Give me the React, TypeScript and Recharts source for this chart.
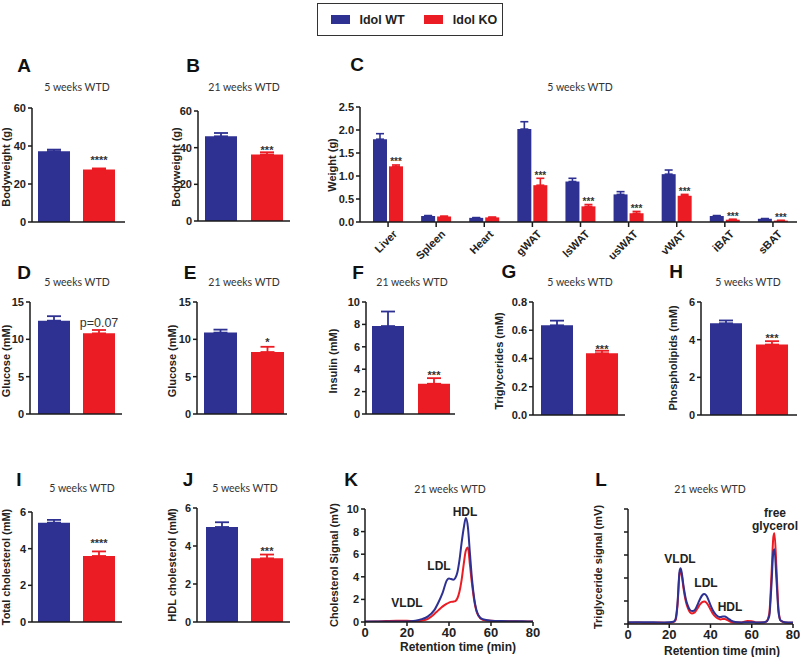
import React from 'react';
import { BarChart, Bar, XAxis, YAxis, ErrorBar, LabelList, LineChart, Line } from 'recharts';

const WT_COLOR = '#2e3192';
const KO_COLOR = '#ec1c24';
const FONT = '"Liberation Sans", Arial, sans-serif';
const TITLE_FONT = 'Lato, "Liberation Sans", sans-serif';
const AXIS = '#1a1a1a';

// bar panels: [WT, KO] means and upper SEM
const aMeans = [37.3, 27.6];
const aErr = [0.8, 0.6];
const bMeans = [46.2, 36.3];
const bErr = [1.8, 1.2];
const dMeans = [12.5, 10.8];
const dErr = [0.6, 0.45];
const eMeans = [10.9, 8.3];
const eErr = [0.4, 0.7];
const fMeans = [7.85, 2.7];
const fErr = [1.3, 0.5];
const gMeans = [0.635, 0.437];
const gErr = [0.033, 0.018];
const hMeans = [4.87, 3.74];
const hErr = [0.15, 0.18];
const iMeans = [5.42, 3.6];
const iErr = [0.15, 0.25];
const jMeans = [5.0, 3.35];
const jErr = [0.25, 0.2];

// panel C organ weights
const organs = ['Liver', 'Spleen', 'Heart', 'gWAT', 'lsWAT', 'usWAT', 'vWAT', 'iBAT', 'sBAT'];
const organWT = [1.8, 0.13, 0.09, 2.02, 0.88, 0.6, 1.04, 0.13, 0.07];
const organWTErr = [0.12, 0.01, 0.006, 0.16, 0.07, 0.06, 0.09, 0.01, 0.005];
const organKO = [1.21, 0.12, 0.1, 0.8, 0.34, 0.19, 0.57, 0.05, 0.03];
const organKOErr = [0.03, 0.006, 0.006, 0.15, 0.04, 0.04, 0.03, 0.01, 0.005];
const organNote = ['***', '', '', '***', '***', '***', '***', '***', '***'];

// panel K cholesterol FPLC profile
const kTime = [0, 5, 10, 15, 20, 24, 27, 30, 33, 35, 37, 39, 40, 41, 42, 43, 44, 45, 46, 47, 48, 49, 50, 51, 52, 53, 54, 56, 60, 65, 70, 75, 80];
const kWT = [0.05, 0.05, 0.05, 0.05, 0.05, 0.12, 0.25, 0.5, 1.05, 1.75, 2.6, 3.7, 3.85, 3.8, 3.75, 3.9, 4.4, 5.5, 7.0, 8.3, 9.2, 8.4, 6.0, 3.7, 2.1, 1.1, 0.6, 0.25, 0.12, 0.08, 0.07, 0.06, 0.05];
const kKO = [0.02, 0.04, 0.08, 0.12, 0.1, 0.06, 0.12, 0.28, 0.7, 1.05, 1.38, 1.62, 1.72, 1.78, 1.8, 1.85, 2.1, 2.7, 3.7, 5.1, 6.3, 6.6, 5.0, 3.3, 1.9, 1.0, 0.55, 0.2, 0.1, 0.07, 0.06, 0.05, 0.05];

// panel L triglyceride FPLC profile
const lTime = [0, 5, 10, 15, 20, 22, 23, 24, 25, 25.5, 26, 27, 28, 29, 30, 31, 32, 33, 34, 35, 36, 37, 38, 39, 40, 41, 42, 43, 44, 45, 46, 47, 48, 49, 50, 52, 55, 58, 60, 62, 66, 67, 68.5, 69.5, 70.5, 71, 72, 73, 74, 76, 80];
const lWT = [0.08, 0.08, 0.08, 0.07, 0.08, 0.1, 0.2, 0.9, 2.3, 2.42, 2.25, 1.6, 1.1, 0.8, 0.62, 0.56, 0.58, 0.7, 0.9, 1.1, 1.25, 1.3, 1.24, 1.05, 0.82, 0.62, 0.47, 0.37, 0.31, 0.3, 0.33, 0.33, 0.28, 0.21, 0.15, 0.09, 0.07, 0.08, 0.08, 0.07, 0.08, 0.1, 0.35, 1.6, 3.15, 3.25, 1.9, 0.5, 0.15, 0.08, 0.06];
const lKO = [0.05, 0.06, 0.05, 0.06, 0.05, 0.08, 0.15, 0.8, 2.2, 2.32, 2.15, 1.5, 1.0, 0.7, 0.52, 0.46, 0.48, 0.58, 0.72, 0.86, 0.95, 0.98, 0.93, 0.8, 0.63, 0.47, 0.35, 0.27, 0.22, 0.2, 0.22, 0.22, 0.18, 0.13, 0.09, 0.06, 0.07, 0.13, 0.12, 0.07, 0.07, 0.1, 0.45, 2.0, 3.8, 3.95, 2.4, 0.6, 0.15, 0.07, 0.05];

const retentionTicks = [0, 20, 40, 60, 80];

const Txt = ({ x, y, size = 11, weight = 400, color = '#222', family = FONT, children }: any) => (
  <div
    style={{
      position: 'absolute', left: x, top: y, transform: 'translate(-50%, -50%)',
      fontSize: size, fontWeight: weight, color, fontFamily: family, whiteSpace: 'nowrap', lineHeight: 1,
    }}
  >
    {children}
  </div>
);

const VTxt = ({ x, y, size = 11, children }: any) => (
  <div
    style={{
      position: 'absolute', left: x, top: y, transform: 'translate(-50%, -50%) rotate(-90deg)',
      fontSize: size, fontWeight: 700, color: '#222', fontFamily: FONT, whiteSpace: 'nowrap', lineHeight: 1,
    }}
  >
    {children}
  </div>
);

// label above the KO error bar cap, positioned from the bar geometry
const noteLabel = (rows: any[], gap: number, size: number, weight: number, shift: number) => (p: any) => {
  const vb = p.viewBox ?? p;
  const row = rows[p.index];
  if (!row || !row.note || !vb || vb.height == null) return null;
  const capY = vb.y - vb.height * (row.koErr[1] / row.ko);
  return (
    <text
      x={vb.x + vb.width / 2}
      y={capY - gap + shift}
      textAnchor="middle"
      fontSize={size}
      fontWeight={weight}
      fill="#333"
      fontFamily={FONT}
    >
      {row.note}
    </text>
  );
};

const tickStyle = { fontSize: 11, fontWeight: 700, fill: '#222', fontFamily: FONT };

function BarPanel(props: any) {
  const {
    axisX, topY, bottomY, rightX, means, errs, max, ticks, note,
    noteGap = 5, noteSize = 11, noteWeight = 700, noteShift = 6,
    barSize = 32, gap = 13, padL = 0, padR = 0, fmt,
  } = props;
  const rows = [{ name: 'g', wt: means[0], wtErr: [0, errs[0]], ko: means[1], koErr: [0, errs[1]], note }];
  const yw = 30;
  const mt = 10;
  const axisH = 12;
  const left = axisX - yw;
  const top = topY - mt;
  const width = rightX - left + 2;
  const height = bottomY - top + axisH;
  return (
    <div style={{ position: 'absolute', left, top }}>
      <BarChart width={width} height={height} data={rows} margin={{ top: mt, right: 2, bottom: 0, left: 0 }} barGap={gap} barSize={barSize}>
        <XAxis dataKey="name" height={axisH} tick={false} tickLine={false} axisLine={{ stroke: AXIS, strokeWidth: 1.5 }} padding={{ left: padL, right: padR }} />
        <YAxis
          width={yw}
          domain={[0, max]}
          ticks={ticks}
          interval={0}
          allowDataOverflow
          tick={tickStyle}
          tickFormatter={fmt}
          tickSize={4}
          tickLine={{ stroke: AXIS, strokeWidth: 1.5 }}
          axisLine={{ stroke: AXIS, strokeWidth: 1.5 }}
        />
        <Bar dataKey="wt" fill={WT_COLOR} isAnimationActive={false}>
          <ErrorBar dataKey="wtErr" direction="y" width={7} stroke={WT_COLOR} strokeWidth={1.8} isAnimationActive={false} />
        </Bar>
        <Bar dataKey="ko" fill={KO_COLOR} isAnimationActive={false}>
          <ErrorBar dataKey="koErr" direction="y" width={7} stroke={KO_COLOR} strokeWidth={1.8} isAnimationActive={false} />
          <LabelList dataKey="note" content={noteLabel(rows, noteGap, noteSize, noteWeight, noteShift)} />
        </Bar>
      </BarChart>
    </div>
  );
}

const OrganTick = (p: any) => {
  const { x, y, payload } = p;
  const ax = x + 7;
  const ay = y + 3;
  return (
    <text x={ax} y={ay} dy={4} textAnchor="end" transform={`rotate(-45 ${ax} ${ay})`} {...tickStyle}>
      {payload.value}
    </text>
  );
};

function OrganPanel() {
  const rows = organs.map((name, i) => ({
    name,
    wt: organWT[i],
    wtErr: [0, organWTErr[i]],
    ko: organKO[i],
    koErr: [0, organKOErr[i]],
    note: organNote[i],
  }));
  const axisX = 360;
  const topY = 107;
  const bottomY = 222;
  const yw = 32;
  const mt = 10;
  const axisH = 45;
  const left = axisX - yw;
  const top = topY - mt;
  return (
    <div style={{ position: 'absolute', left, top }}>
      <BarChart width={797 - left + 2} height={bottomY - top + axisH} data={rows} margin={{ top: mt, right: 2, bottom: 0, left: 0 }} barGap={2} barSize={14}>
        <XAxis
          dataKey="name"
          height={axisH}
          interval={0}
          tick={<OrganTick />}
          tickSize={5}
          tickLine={{ stroke: AXIS, strokeWidth: 1.5 }}
          axisLine={{ stroke: AXIS, strokeWidth: 1.5 }}
          padding={{ left: 4, right: 0 }}
        />
        <YAxis
          width={yw}
          domain={[0, 2.5]}
          ticks={[0, 0.5, 1, 1.5, 2, 2.5]}
          interval={0}
          tick={tickStyle}
          tickFormatter={(v: number) => v.toFixed(1)}
          tickSize={4}
          tickLine={{ stroke: AXIS, strokeWidth: 1.5 }}
          axisLine={{ stroke: AXIS, strokeWidth: 1.5 }}
        />
        <Bar dataKey="wt" fill={WT_COLOR} isAnimationActive={false}>
          <ErrorBar dataKey="wtErr" direction="y" width={4} stroke={WT_COLOR} strokeWidth={1.6} isAnimationActive={false} />
        </Bar>
        <Bar dataKey="ko" fill={KO_COLOR} isAnimationActive={false}>
          <ErrorBar dataKey="koErr" direction="y" width={4} stroke={KO_COLOR} strokeWidth={1.6} isAnimationActive={false} />
          <LabelList dataKey="note" content={noteLabel(rows, 5, 10, 700, 5.5)} />
        </Bar>
      </BarChart>
    </div>
  );
}

function LinePanel(props: any) {
  const { axisX, topY, bottomY, rightX, time, wt, ko, max, ticks, showY } = props;
  const data = time.map((t: number, i: number) => ({ t, wt: wt[i], ko: ko[i] }));
  const yw = 26;
  const mt = 10;
  const xh = 26;
  const mr = 10;
  const left = axisX - yw;
  const top = topY - mt;
  return (
    <div style={{ position: 'absolute', left, top }}>
      <LineChart width={rightX - left + mr} height={bottomY - top + xh} data={data} margin={{ top: mt, right: mr, bottom: 0, left: 0 }}>
        <XAxis
          type="number"
          dataKey="t"
          domain={[0, 80]}
          ticks={retentionTicks}
          interval={0}
          height={xh}
          tick={{ ...tickStyle, fontSize: 13 }}
          tickSize={4}
          tickLine={{ stroke: AXIS, strokeWidth: 1.5 }}
          axisLine={{ stroke: AXIS, strokeWidth: 1.5 }}
        />
        <YAxis
          width={yw}
          domain={[0, max]}
          ticks={ticks}
          interval={0}
          allowDataOverflow
          tick={tickStyle}
          tickFormatter={showY ? undefined : () => ''}
          tickSize={4}
          tickLine={{ stroke: AXIS, strokeWidth: 1.5 }}
          axisLine={{ stroke: AXIS, strokeWidth: 1.5 }}
        />
        <Line dataKey="ko" type="monotone" stroke={KO_COLOR} strokeWidth={2} dot={false} isAnimationActive={false} />
        <Line dataKey="wt" type="monotone" stroke={WT_COLOR} strokeWidth={2} dot={false} isAnimationActive={false} />
      </LineChart>
    </div>
  );
}

const Title = ({ x, y, children }: any) => (
  <Txt x={x} y={y} size={10.5} family={TITLE_FONT} color="#333">{children}</Txt>
);
const Letter = ({ x, y, children }: any) => (
  <Txt x={x} y={y} size={19} weight={700} color="#111">{children}</Txt>
);

export default function App() {
  return (
    <div style={{ position: 'absolute', left: 0, top: 0, width: 800, height: 657, background: '#fff', overflow: 'hidden', fontFamily: FONT }}>
      {/* legend */}
      <div style={{ position: 'absolute', left: 317, top: 3, width: 186, height: 33, border: '1.5px solid #333', boxSizing: 'border-box' }} />
      <div style={{ position: 'absolute', left: 331, top: 15, width: 19, height: 9, background: WT_COLOR }} />
      <Txt x={382} y={20} size={12.5} weight={700}>Idol WT</Txt>
      <div style={{ position: 'absolute', left: 424, top: 15, width: 19, height: 9, background: KO_COLOR }} />
      <Txt x={475} y={20} size={12.5} weight={700}>Idol KO</Txt>

      {/* row 1 */}
      <Letter x={24} y={65}>A</Letter>
      <Title x={77} y={87}>5 weeks WTD</Title>
      <VTxt x={6} y={167}>Bodyweight (g)</VTxt>
      <BarPanel axisX={32} topY={108} bottomY={222} rightX={125} means={aMeans} errs={aErr} max={60} ticks={[0, 20, 40, 60]} note="****" noteGap={10} padR={4} />

      <Letter x={193} y={65}>B</Letter>
      <Title x={244} y={87}>21 weeks WTD</Title>
      <VTxt x={176} y={167}>Bodyweight (g)</VTxt>
      <BarPanel axisX={198} topY={111} bottomY={221} rightX={290} means={bMeans} errs={bErr} max={60} ticks={[0, 20, 40, 60]} note="***" noteGap={4.5} barSize={32} gap={14} />

      <Letter x={357} y={64}>C</Letter>
      <Title x={580} y={87}>5 weeks WTD</Title>
      <VTxt x={332} y={165}>Weight (g)</VTxt>
      <OrganPanel />

      {/* row 2 */}
      <Letter x={24} y={272}>D</Letter>
      <Title x={77} y={282}>5 weeks WTD</Title>
      <VTxt x={6} y={361}>Glucose (mM)</VTxt>
      <BarPanel axisX={30} topY={302} bottomY={414} rightX={122} means={dMeans} errs={dErr} max={15} ticks={[0, 5, 10, 15]} note="p=0.07" noteGap={8} noteSize={12.5} noteWeight={400} noteShift={4.5} />

      <Letter x={190} y={272}>E</Letter>
      <Title x={244} y={282}>21 weeks WTD</Title>
      <VTxt x={172} y={361}>Glucose (mM)</VTxt>
      <BarPanel axisX={197} topY={302} bottomY={414} rightX={287} means={eMeans} errs={eErr} max={15} ticks={[0, 5, 10, 15]} note="*" noteGap={6.5} barSize={33} gap={14} padL={3} />

      <Letter x={358} y={272}>F</Letter>
      <Title x={412} y={282}>21 weeks WTD</Title>
      <VTxt x={333} y={361}>Insulin (mM)</VTxt>
      <BarPanel axisX={366} topY={302} bottomY={414} rightX={455} means={fMeans} errs={fErr} max={10} ticks={[0, 2, 4, 6, 8, 10]} note="***" noteGap={5} barSize={32} gap={14} />

      <Letter x={509} y={271}>G</Letter>
      <Title x={580} y={282}>5 weeks WTD</Title>
      <VTxt x={499} y={361}>Triglycerides (mM)</VTxt>
      <BarPanel axisX={533} topY={302} bottomY={415} rightX={625} means={gMeans} errs={gErr} max={0.8} ticks={[0, 0.2, 0.4, 0.6, 0.8]} fmt={(v: number) => v.toFixed(1)} note="***" noteGap={3.5} padL={1} />

      <Letter x={676} y={271}>H</Letter>
      <Title x={748} y={282}>5 weeks WTD</Title>
      <VTxt x={673} y={358}>Phospholipids (mM)</VTxt>
      <BarPanel axisX={701} topY={302} bottomY={415} rightX={797} means={hMeans} errs={hErr} max={6} ticks={[0, 2, 4, 6]} note="***" noteGap={5.5} gap={14} padR={1} />

      {/* row 3 */}
      <Letter x={19} y={479}>I</Letter>
      <Title x={82} y={488}>5 weeks WTD</Title>
      <VTxt x={6} y={567}>Total cholesterol (mM)</VTxt>
      <BarPanel axisX={32} topY={512} bottomY={622} rightX={122} means={iMeans} errs={iErr} max={6} ticks={[0, 2, 4, 6]} note="****" noteGap={10.5} padR={1} />

      <Letter x={188} y={479}>J</Letter>
      <Title x={245} y={488}>5 weeks WTD</Title>
      <VTxt x={172} y={565}>HDL cholesterol (mM)</VTxt>
      <BarPanel axisX={197} topY={508} bottomY={622} rightX={290} means={jMeans} errs={jErr} max={6} ticks={[0, 2, 4, 6]} note="***" noteGap={5.3} padL={1} />

      <Letter x={351} y={479}>K</Letter>
      <Title x={450} y={489}>21 weeks WTD</Title>
      <VTxt x={334} y={565}>Cholesterol Signal (mV)</VTxt>
      <LinePanel axisX={365} topY={509} bottomY={622} rightX={533} time={kTime} wt={kWT} ko={kKO} max={10} ticks={[0, 2, 4, 6, 8, 10]} showY />
      <Txt x={465} y={512} size={12} weight={700}>HDL</Txt>
      <Txt x={439} y={566} size={12} weight={700}>LDL</Txt>
      <Txt x={407} y={603} size={12} weight={700}>VLDL</Txt>
      <Txt x={458} y={647} size={12} weight={700}>Retention time (min)</Txt>

      <Letter x={601} y={479}>L</Letter>
      <Title x={710} y={489}>21 weeks WTD</Title>
      <VTxt x={598} y={567}>Triglyceride signal (mV)</VTxt>
      <LinePanel axisX={628} topY={509} bottomY={624} rightX={793} time={lTime} wt={lWT} ko={lKO} max={5} ticks={[0, 1, 2, 3, 4, 5]} showY={false} />
      <Txt x={680} y={559} size={12} weight={700}>VLDL</Txt>
      <Txt x={706} y={583} size={12} weight={700}>LDL</Txt>
      <Txt x={730} y={607} size={12} weight={700}>HDL</Txt>
      <Txt x={775} y={513} size={12} weight={700}>free</Txt>
      <Txt x={775} y={526} size={12} weight={700}>glycerol</Txt>
      <Txt x={722} y={651} size={12} weight={700}>Retention time (min)</Txt>
    </div>
  );
}
